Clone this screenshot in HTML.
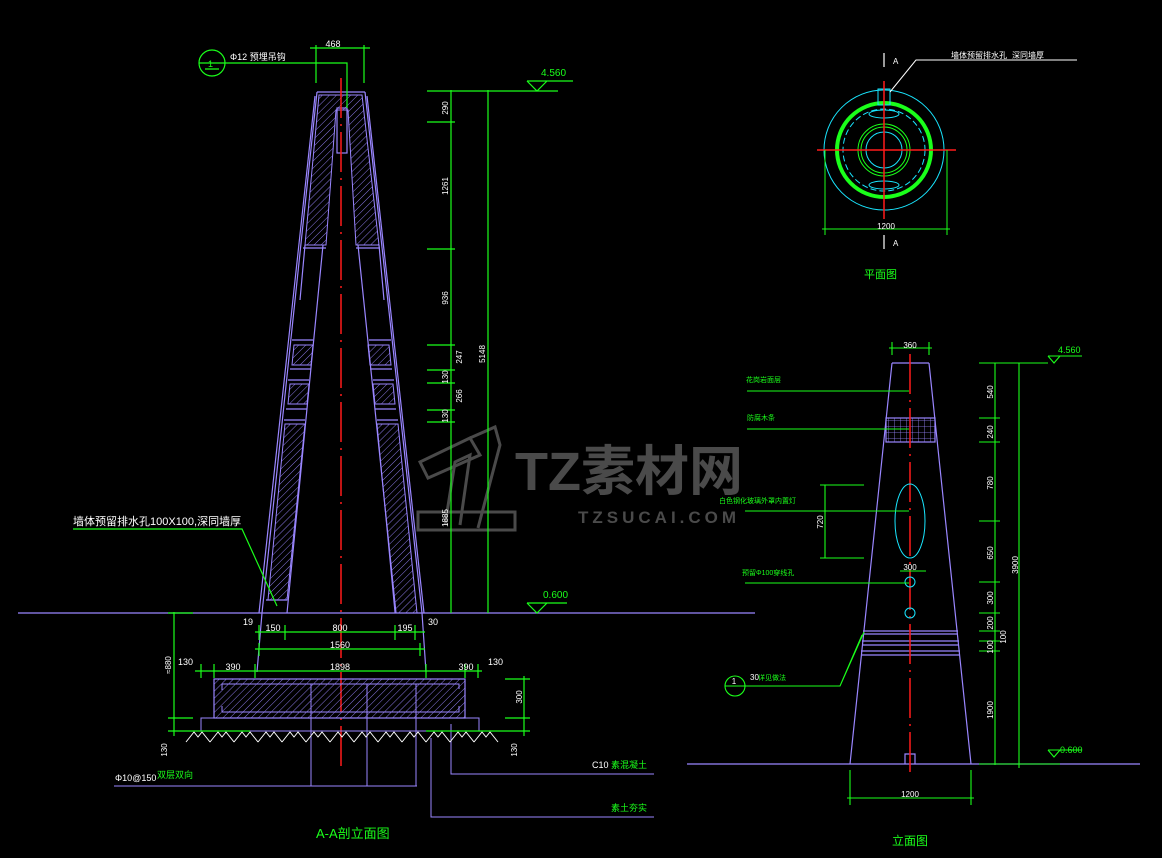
<!DOCTYPE html>
<html><head><meta charset="utf-8">
<style>
html,body{margin:0;padding:0;background:#000;}
svg{display:block;}
text{font-family:"Liberation Sans","Noto Sans CJK SC",sans-serif;}
</style></head>
<body>
<svg width="1162" height="858" viewBox="0 0 1162 858" xmlns="http://www.w3.org/2000/svg">
<defs>
<pattern id="h" patternUnits="userSpaceOnUse" width="5" height="5" patternTransform="rotate(45)">
<line x1="0" y1="0" x2="0" y2="5" stroke="#9a86ff" stroke-width="0.9"/>
</pattern>
<pattern id="mesh" patternUnits="userSpaceOnUse" width="6" height="6">
<path d="M0 0H6M0 0V6" stroke="#9a86ff" stroke-width="0.8" fill="none"/>
</pattern>
</defs>
<rect width="1162" height="858" fill="#000"/>

<!-- watermark -->
<g fill="none" stroke="#4a4a4a" stroke-width="3">
<path d="M420 462 L470 438 L480 455 L428 478 Z"/>
<path d="M470 438 L495 427 L500 445 L478 528"/>
<path d="M445 525 L455 462 L470 455 L460 525"/>
<path d="M418 512 L515 512 L515 530 L418 530 Z"/>
</g>
<text x="515" y="490" font-size="54" font-weight="bold" fill="#4a4a4a">TZ素材网</text>
<text x="578" y="523" font-size="17" font-weight="bold" fill="#4a4a4a" letter-spacing="4">TZSUCAI.COM</text>

<!-- ================= LEFT SECTION ================= -->
<g stroke="#9a86ff" stroke-width="1.2" fill="none">
<!-- ground line -->
<line x1="18" y1="613" x2="755" y2="613"/>
</g>
<!-- hatched walls -->
<g fill="url(#h)" stroke="#9a86ff" stroke-width="1">
<polygon points="319,95 362,95 379,245 356,245 348,110 336,110 326,245 305,245"/>
<polygon points="294,345 313,345 311,365 292,365"/>
<polygon points="368,345 389,345 391,365 370,365"/>
<polygon points="290,384 309,384 307,404 288,404"/>
<polygon points="373,384 393,384 395,404 375,404"/>
<polygon points="285,424 305,424 287,600 268,600"/>
<polygon points="377,424 398,424 417,613 395,613"/>
</g>
<g stroke="#9a86ff" stroke-width="1.2" fill="none">
<polyline points="317,92 365,92"/>
<line x1="317" y1="92" x2="262" y2="613"/>
<line x1="315" y1="96" x2="259" y2="613"/>
<line x1="365" y1="92" x2="422" y2="613"/>
<line x1="367" y1="96" x2="424" y2="613"/>
<line x1="323" y1="245" x2="287" y2="613"/>
<line x1="358" y1="245" x2="396" y2="613"/>
<line x1="305" y1="245" x2="300" y2="300"/>
<line x1="379" y1="245" x2="384" y2="300"/>
<path d="M303 248H326M356 248H380"/>
<path d="M292 340H313M369 340H391M290 369H311M370 369H392M288 380H309M373 380H394M286 409H307M375 409H396M284 420H305M377 420H398"/>
<path d="M266 600H287M262 613 L257 672 M422 613 L426 672"/>
<rect x="337" y="108" width="10" height="45"/>
</g>
<!-- centerline -->
<line x1="341" y1="78" x2="341" y2="768" stroke="#ff1a1a" stroke-width="1.5" stroke-dasharray="40,6,2,6"/>

<!-- footing -->
<rect x="214" y="679" width="251" height="39" fill="url(#h)" stroke="#9a86ff" stroke-width="1.2"/>
<g stroke="#9a86ff" stroke-width="1" fill="none">
<path d="M222 684H459V689M222 684V690M222 712H459V706M222 712V706"/>
<rect x="201" y="718" width="278" height="13"/>
<line x1="311" y1="684" x2="311" y2="786"/>
<line x1="367" y1="684" x2="367" y2="786"/>
<line x1="416" y1="684" x2="416" y2="786"/>
<line x1="114" y1="786" x2="417" y2="786"/>
<polyline points="451,724 451,774 654,774"/>
<polyline points="431,738 431,817 654,817"/>
</g>
<!-- ground hatch -->
<g stroke="#fff" stroke-width="1" fill="none">
<path d="M186 742 l8 -10 l4 5 l4 -5 l8 10 M210 742 l8 -10 l4 5 l4 -5 l8 10 M234 742 l8 -10 l4 5 l4 -5 l8 10 M258 742 l8 -10 l4 5 l4 -5 l8 10 M282 742 l8 -10 l4 5 l4 -5 l8 10 M306 742 l8 -10 l4 5 l4 -5 l8 10 M330 742 l8 -10 l4 5 l4 -5 l8 10 M354 742 l8 -10 l4 5 l4 -5 l8 10 M378 742 l8 -10 l4 5 l4 -5 l8 10 M402 742 l8 -10 l4 5 l4 -5 l8 10 M426 742 l8 -10 l4 5 l4 -5 l8 10 M450 742 l8 -10 l4 5 l4 -5 l8 10 M474 742 l8 -10 l4 5 l4 -5 l8 10"/>
</g>

<!-- green dims left -->
<g stroke="#1aff1a" stroke-width="1.2" fill="none">
<path d="M316 45V83M364 45V83M310 48H370"/>
<circle cx="212" cy="63" r="13"/>
<path d="M199 63H225M205 69H219M225 63H347V108"/>
<path d="M451 90V613M488 90V613M427 91H558M427 122H455M427 249H455M427 345H455M427 370H455M427 383H455M427 410H455M427 422H455M527 81H573M527 81L537 91L547 81"/>
<path d="M527 603H567M527 603L537 613L547 603"/>
<path d="M255 632H425M259 625V640M285 625V640M395 625V640M415 625V640M255 649H425M259 643V656M420 643V656M195 671H482M201 664V678M214 664V678M255 664V678M426 664V678M465 664V678M478 664V678"/>
<path d="M174 612V736M168 613H193M168 718H193M168 731H250M505 679H530M505 718H530M505 731H530M524 676V736M426 731H530"/>
<path d="M73 529H242L277 606"/>
</g>
<g font-size="9" fill="#fff">
<text x="333" y="47" text-anchor="middle">468</text>
<text x="230" y="60" fill="#fff">Φ12 预埋吊钩</text>
<text x="243" y="625">19</text><text x="428" y="625">30</text>
<text x="273" y="631" text-anchor="middle">150</text>
<text x="340" y="631" text-anchor="middle">800</text>
<text x="405" y="631" text-anchor="middle">195</text>
<text x="340" y="648" text-anchor="middle">1560</text>
<text x="233" y="670" text-anchor="middle">390</text>
<text x="340" y="670" text-anchor="middle">1898</text>
<text x="466" y="670" text-anchor="middle">390</text>
<text x="178" y="665">130</text><text x="488" y="665">130</text>
<text x="115" y="781">Φ10@150</text>
<text x="592" y="768">C10</text>
</g>
<g font-size="8" fill="#fff">
<text transform="translate(448,108) rotate(-90)" text-anchor="middle">290</text>
<text transform="translate(448,186) rotate(-90)" text-anchor="middle">1261</text>
<text transform="translate(448,298) rotate(-90)" text-anchor="middle">936</text>
<text transform="translate(462,357) rotate(-90)" text-anchor="middle">247</text>
<text transform="translate(448,377) rotate(-90)" text-anchor="middle">130</text>
<text transform="translate(462,396) rotate(-90)" text-anchor="middle">266</text>
<text transform="translate(448,416) rotate(-90)" text-anchor="middle">130</text>
<text transform="translate(448,518) rotate(-90)" text-anchor="middle">1885</text>
<text transform="translate(485,354) rotate(-90)" text-anchor="middle">5148</text>
<text transform="translate(171,665) rotate(-90)" text-anchor="middle">≈880</text>
<text transform="translate(522,697) rotate(-90)" text-anchor="middle">300</text>
<text transform="translate(167,750) rotate(-90)" text-anchor="middle">130</text>
<text transform="translate(517,750) rotate(-90)" text-anchor="middle">130</text>
</g>
<text x="208" y="67" font-size="9" fill="#1aff1a">1</text>
<text x="73" y="525" font-size="11" fill="#fff">墙体预留排水孔100X100,深同墙厚</text>
<text x="541" y="76" font-size="10" fill="#1aff1a">4.560</text>
<text x="543" y="598" font-size="10" fill="#1aff1a">0.600</text>
<text x="157" y="778" font-size="9" fill="#1aff1a">双层双向</text>
<text x="611" y="768" font-size="9" fill="#1aff1a">素混凝土</text>
<text x="611" y="811" font-size="9" fill="#1aff1a">素土夯实</text>
<text x="316" y="838" font-size="13" fill="#1aff1a">A-A剖立面图</text>

<!-- ================= PLAN ================= -->
<g fill="none">
<circle cx="884" cy="150" r="60" stroke="#19e6ff" stroke-width="1"/>
<circle cx="884" cy="150" r="47" stroke="#1aff1a" stroke-width="4"/>
<circle cx="884" cy="150" r="41" stroke="#19e6ff" stroke-width="1" stroke-dasharray="6,3"/>
<circle cx="884" cy="150" r="26" stroke="#1aff1a" stroke-width="1"/>
<circle cx="884" cy="150" r="23" stroke="#1aff1a" stroke-width="1"/>
<circle cx="884" cy="150" r="18" stroke="#19e6ff" stroke-width="1"/>
<ellipse cx="884" cy="114" rx="15" ry="4" stroke="#19e6ff"/>
<ellipse cx="884" cy="185" rx="15" ry="4" stroke="#19e6ff"/>
<rect x="878" y="89" width="12" height="16" stroke="#19e6ff"/>
<path d="M817 150H956M884 81V219" stroke="#ff1a1a" stroke-width="1.5"/>
<path d="M825 150V235M947 150V235M822 229H950" stroke="#1aff1a" stroke-width="1"/>
<path d="M884 53V67M884 235V249" stroke="#fff" stroke-width="1.2"/>
<path d="M890 92L916 60H1077" stroke="#fff" stroke-width="1"/>
</g>
<g font-size="8" fill="#fff">
<text x="893" y="64">A</text><text x="893" y="246">A</text>
<text x="886" y="229" text-anchor="middle">1200</text>
<text x="951" y="58">墙体预留排水孔</text><text x="1012" y="58">深同墙厚</text>
</g>
<text x="864" y="278" font-size="11" fill="#1aff1a">平面图</text>

<!-- ================= ELEVATION ================= -->
<g stroke="#9a86ff" stroke-width="1.2" fill="none">
<line x1="687" y1="764" x2="1140" y2="764"/>
<path d="M892 363H929M892 363L850 764M929 363L971 764"/>
<rect x="886" y="418" width="49" height="24" fill="url(#mesh)"/>
<path d="M863 631H958M863 634H958M862 641H959M862 645H959M861 651H960M861 655H960"/>
<path d="M905 764V754H915V764"/>
</g>
<line x1="910" y1="354" x2="910" y2="775" stroke="#ff1a1a" stroke-width="1.5" stroke-dasharray="40,6,2,6"/>
<g fill="none" stroke="#19e6ff" stroke-width="1">
<ellipse cx="910" cy="521" rx="15" ry="37"/>
<circle cx="910" cy="582" r="5"/>
<circle cx="910" cy="613" r="5"/>
</g>
<g stroke="#1aff1a" stroke-width="1.1" fill="none">
<path d="M889 348H932M892 342V355M929 342V355"/>
<path d="M995 363V765M1019 363V768M979 363H1048M979 418H1000M979 442H1000M979 521H1000M979 582H1000M979 613H1000M979 631H1000M979 641H1000M979 651H1000M979 764H1060"/>
<path d="M1048 356H1082M1048 356L1054 363L1060 356M1048 750H1082M1048 750L1054 757L1060 750"/>
<path d="M850 770V805M971 770V805M847 798H974"/>
<path d="M747 391H909M747 429H909M745 511H909M745 583H909"/>
<path d="M820 485H864M820 558H864M825 485V558M900 571H926"/>
<circle cx="735" cy="686" r="10"/>
<path d="M725 686H840L862 635M840 686L864 632"/>
</g>
<g font-size="8" fill="#fff">
<text x="910" y="348" text-anchor="middle">360</text>
<text x="910" y="570" text-anchor="middle">300</text>
<text x="910" y="797" text-anchor="middle">1200</text>
<text x="734" y="684" text-anchor="middle">1</text>
<text x="750" y="680">30</text>
<text transform="translate(993,392) rotate(-90)" text-anchor="middle">540</text>
<text transform="translate(993,432) rotate(-90)" text-anchor="middle">240</text>
<text transform="translate(993,483) rotate(-90)" text-anchor="middle">780</text>
<text transform="translate(993,553) rotate(-90)" text-anchor="middle">650</text>
<text transform="translate(993,598) rotate(-90)" text-anchor="middle">300</text>
<text transform="translate(993,623) rotate(-90)" text-anchor="middle">200</text>
<text transform="translate(993,647) rotate(-90)" text-anchor="middle">100</text>
<text transform="translate(1006,637) rotate(-90)" text-anchor="middle">100</text>
<text transform="translate(993,710) rotate(-90)" text-anchor="middle">1900</text>
<text transform="translate(1018,565) rotate(-90)" text-anchor="middle">3900</text>
<text transform="translate(823,522) rotate(-90)" text-anchor="middle">720</text>
</g>
<g font-size="7" fill="#1aff1a">
<text x="746" y="382">花岗岩面层</text>
<text x="747" y="420">防腐木条</text>
<text x="719" y="503">白色钢化玻璃外罩内置灯</text>
<text x="742" y="575">预留Φ100穿线孔</text>
<text x="758" y="680">详见做法</text>
</g>
<g font-size="9" fill="#1aff1a">
<text x="1058" y="353">4.560</text>
<text x="1060" y="753">0.600</text>
</g>
<text x="892" y="845" font-size="12" fill="#1aff1a">立面图</text>
</svg>
</body></html>
